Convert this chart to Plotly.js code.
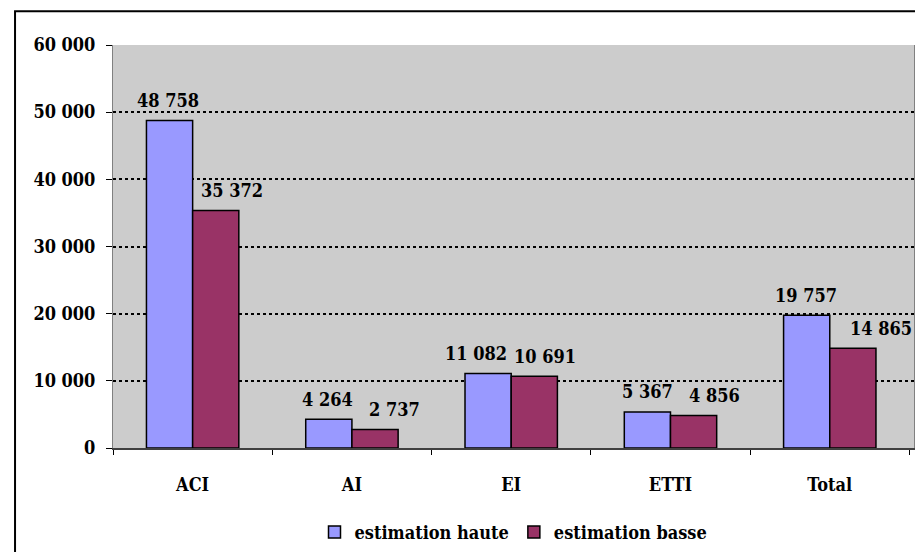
<!DOCTYPE html>
<html>
<head>
<meta charset="utf-8">
<script src="https://cdn.plot.ly/plotly-3.0.1.min.js"></script>
<style>html,body{margin:0;padding:0;background:#fff;}#chart{width:915px;height:552px;}</style>
</head>
<body>
<div id="chart"></div>
<script>
const categories = ["ACI", "AI", "EI", "ETTI", "Total"];
const seriesNames = ["estimation haute", "estimation basse"];
const haute = [48758, 4264, 11082, 5367, 19757];
const basse = [35372, 2737, 10691, 4856, 14865];
const yTicks = [0, 10000, 20000, 30000, 40000, 50000, 60000];

// label nudges (px) as placed in the original chart
const nudgeHaute = [-1, -1, -12, 0, -1];
const nudgeBasse = [16, 19, 11, 21, 28];

const FONT = "DejaVu Serif Condensed, DejaVu Serif";
const labelFont = {family: FONT, size: 18, color: "#000", weight: 700};

const W = 915, H = 552;
const M = {l: 113, r: 1, t: 45, b: 100};
const BARGAP = 0.42;
const plotW = W - M.l - M.r;
const barW = plotW / categories.length * (1 - BARGAP) / 2;

function fmt(v) {
  return String(v).replace(/\B(?=(\d{3})+(?!\d))/g, " ");
}

function barTrace(name, values, color) {
  return {
    type: "bar",
    name: name,
    x: categories,
    y: values,
    marker: {color: color, line: {color: "#000", width: 1.5}},
    hoverinfo: "skip"
  };
}

const data = [
  barTrace(seriesNames[0], haute, "#9999FF"),
  barTrace(seriesNames[1], basse, "#993366")
];

const annotations = [];
categories.forEach((c, i) => {
  annotations.push({
    x: c, y: haute[i], xref: "x", yref: "y",
    text: fmt(haute[i]), showarrow: false,
    xanchor: "center", yanchor: "middle",
    xshift: -barW / 2 + nudgeHaute[i], yshift: 20,
    font: labelFont
  });
  annotations.push({
    x: c, y: basse[i], xref: "x", yref: "y",
    text: fmt(basse[i]), showarrow: false,
    xanchor: "center", yanchor: "middle",
    xshift: barW / 2 + nudgeBasse[i], yshift: 20,
    font: labelFont
  });
});

const layout = {
  width: W,
  height: H,
  separators: ", ",
  margin: {l: M.l, r: M.r, t: M.t, b: M.b, pad: 0},
  paper_bgcolor: "#fff",
  plot_bgcolor: "#CCCCCC",
  bargap: BARGAP,
  bargroupgap: 0,
  showlegend: true,
  legend: {
    orientation: "h",
    x: 0.5, xanchor: "center",
    y: -0.209, yanchor: "middle",
    font: {family: FONT, size: 18, color: "#000", weight: 700},
    bgcolor: "rgba(0,0,0,0)",
    itemclick: false
  },
  xaxis: {
    type: "category",
    tickson: "boundaries",
    ticks: "outside",
    ticklen: 5,
    tickwidth: 1,
    tickcolor: "#000",
    showline: true,
    linecolor: "#404040",
    linewidth: 2,
    mirror: false,
    showgrid: false,
    zeroline: false,
    tickfont: labelFont,
    ticklabelstandoff: 19
  },
  yaxis: {
    range: [0, 60000],
    tickvals: yTicks,
    tickformat: ",d",
    ticks: "outside",
    ticklen: 6,
    tickwidth: 1,
    tickcolor: "#000",
    showline: true,
    linecolor: "#808080",
    linewidth: 1,
    mirror: true,
    showgrid: true,
    gridcolor: "#000",
    gridwidth: 2,
    griddash: "dot",
    zeroline: false,
    tickfont: labelFont,
    ticklabelstandoff: 7
  },
  annotations: annotations,
  shapes: [{
    type: "rect",
    xref: "paper", yref: "paper",
    x0: -0.1223, x1: 1.02,
    y0: -0.3, y1: 1.084,
    line: {color: "#000", width: 2},
    fillcolor: "rgba(0,0,0,0)",
    layer: "above"
  }]
};

Plotly.newPlot("chart", data, layout, {displayModeBar: false, staticPlot: true});
</script>
</body>
</html>
